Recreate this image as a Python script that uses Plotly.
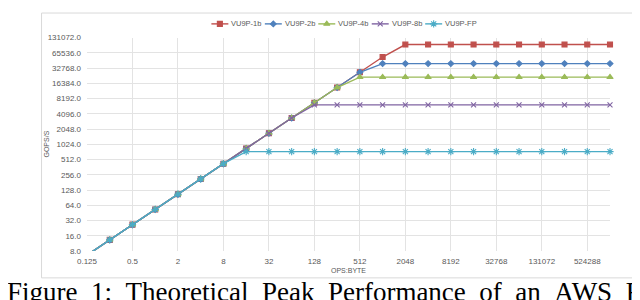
import plotly.graph_objects as go
import math

# ---- data ----
x_vals = [0.125, 0.25, 0.5, 1, 2, 4, 8, 16, 32, 64, 128, 256, 512, 1024,
          2048, 4096, 8192, 16384, 32768, 65536, 131072, 262144, 524288, 1048576]

vu9p_1b = [6.625, 13.25, 26.5, 53, 106, 212, 424, 848, 1696, 3392, 6784, 13568, 27136, 54272,
           95800, 95800, 95800, 95800, 95800, 95800, 95800, 95800, 95800, 95800]
vu9p_2b = [6.625, 13.25, 26.5, 53, 106, 212, 424, 848, 1696, 3392, 6784, 13568, 27136,
           40300, 40300, 40300, 40300, 40300, 40300, 40300, 40300, 40300, 40300, 40300]
vu9p_4b = [6.625, 13.25, 26.5, 53, 106, 212, 424, 848, 1696, 3392, 6784, 13568,
           21800, 21800, 21800, 21800, 21800, 21800, 21800, 21800, 21800, 21800, 21800, 21800]
vu9p_8b = [6.625, 13.25, 26.5, 53, 106, 212, 424, 848, 1696, 3392,
           6160, 6160, 6160, 6160, 6160, 6160, 6160, 6160, 6160, 6160, 6160, 6160, 6160, 6160]
vu9p_fp = [6.625, 13.25, 26.5, 53, 106, 212, 424,
           734, 734, 734, 734, 734, 734, 734, 734, 734, 734, 734, 734, 734, 734, 734, 734, 734]

series_names = ["VU9P-1b", "VU9P-2b", "VU9P-4b", "VU9P-8b", "VU9P-FP"]
series_data = [vu9p_1b, vu9p_2b, vu9p_4b, vu9p_8b, vu9p_fp]

x_tickvals = [0.125, 0.5, 2, 8, 32, 128, 512, 2048, 8192, 32768, 131072, 524288]
x_ticktext = ["0.125", "0.5", "2", "8", "32", "128", "512", "2048", "8192", "32768", "131072", "524288"]
y_tickvals = [8, 16, 32, 64, 128, 256, 512, 1024, 2048, 4096, 8192, 16384, 32768, 65536, 131072]
y_ticktext = ["8.0", "16.0", "32.0", "64.0", "128.0", "256.0", "512.0", "1024.0", "2048.0",
              "4096.0", "8192.0", "16384.0", "32768.0", "65536.0", "131072.0"]

caption = "Figure 1: Theoretical Peak Performance of an AWS F1"

# ---- styles ----
colors = ["#c0504d", "#4f81bd", "#9bbb59", "#8064a2", "#4bacc6"]
symbols = ["square", "diamond", "triangle-up", "x-thin-open", "asterisk-open"]
sizes = [5, 4.5, 5.5, 5, 6]
FONT = "Liberation Sans Narrow, Liberation Sans, Arial"
GRAY = "#595959"

W, H = 640, 300
L, R, T, B = 78.5, 38, 4, 57.3
PLOT_TOP = 26.0          # pixel y of the main plot's top edge
pw = W - L - R
ph = H - T - B
main_top = (H - B - PLOT_TOP) / ph

def px2paper_x(px):
    return (px - L) / pw

def py2paper_y(py):
    return (H - B - py) / ph

fig = go.Figure()
n = len(x_vals)
for name, ys, c, s, sz in zip(series_names, series_data, colors, symbols, sizes):
    fig.add_trace(go.Scatter(
        x=x_vals, y=ys, name=name, mode="lines+markers",
        line=dict(color=c, width=1.4),
        marker=dict(symbol=s, size=sz, color=c,
                    opacity=[0] + [1] * (n - 1),
                    line=dict(color=c, width=1.1)),
        cliponaxis=False, showlegend=False,
    ))

# ---- manual legend (pixel-placed in a strip above the plot) ----
leg_y = 12
leg_x0 = 203
leg_pitch = 53.5
shapes = [dict(type="rect", xref="paper", yref="paper",
               x0=px2paper_x(33), x1=px2paper_x(628),
               y0=py2paper_y(270), y1=py2paper_y(1),
               line=dict(color="#d9d9d9", width=1), fillcolor="rgba(0,0,0,0)",
               layer="below")]
annotations = []
for i, (name, c, s, sz) in enumerate(zip(series_names, colors, symbols, sizes)):
    sx = leg_x0 + i * leg_pitch
    shapes.append(dict(type="line", xref="paper", yref="paper",
                       x0=px2paper_x(sx), x1=px2paper_x(sx + 17),
                       y0=py2paper_y(leg_y), y1=py2paper_y(leg_y),
                       line=dict(color=c, width=1.4)))
    annotations.append(dict(text=name, xref="paper", yref="paper",
                            x=px2paper_x(sx + 18), y=py2paper_y(leg_y),
                            xanchor="left", yanchor="middle", showarrow=False,
                            font=dict(family=FONT, size=7.5, color=GRAY)))
    fig.add_trace(go.Scatter(
        x=[sx + 8.5], y=[leg_y], mode="markers", xaxis="x2", yaxis="y2",
        marker=dict(symbol=s, size=sz, color=c, line=dict(color=c, width=1.1)),
        cliponaxis=False, showlegend=False, hoverinfo="skip"))

grid = "#e3e3e3"
tickfont = dict(family=FONT, size=8, color=GRAY)

annotations += [
    dict(text="GOPS/S", textangle=-90, xref="paper", yref="paper",
         x=px2paper_x(38), y=py2paper_y(134), xanchor="center", yanchor="middle",
         showarrow=False, font=dict(family=FONT, size=7, color=GRAY)),
    dict(text="OPS:BYTE", xref="paper", yref="paper",
         x=px2paper_x(340), y=py2paper_y(263), xanchor="center", yanchor="middle",
         showarrow=False, font=dict(family=FONT, size=7, color=GRAY)),
    dict(text=caption.replace(" ", " \u00a0"), xref="paper", yref="paper",
         x=px2paper_x(-4), y=py2paper_y(284), xanchor="left", yanchor="middle",
         showarrow=False,
         font=dict(family="Liberation Serif, DejaVu Serif, serif", size=27, color="#000000")),
]

fig.update_layout(
    width=W, height=H,
    margin=dict(l=L, r=R, t=T, b=B, pad=0),
    paper_bgcolor="white", plot_bgcolor="white",
    showlegend=False,
    xaxis=dict(type="log", range=[math.log10(0.125), math.log10(1048576)],
               tickvals=x_tickvals, ticktext=x_ticktext, tickfont=tickfont,
               showgrid=True, gridcolor=grid, gridwidth=1,
               showline=False, zeroline=False, ticks="", ticklabelstandoff=4),
    yaxis=dict(type="log", range=[math.log10(8), math.log10(131072)], domain=[0, main_top],
               tickvals=y_tickvals, ticktext=y_ticktext, tickfont=tickfont,
               showgrid=True, gridcolor=grid, gridwidth=1,
               showline=False, zeroline=False, ticks="", ticklabelstandoff=5),
    xaxis2=dict(domain=[0, 1], range=[L, W - R], visible=False, fixedrange=True, anchor="y2"),
    yaxis2=dict(domain=[main_top, 1], range=[PLOT_TOP, T], visible=False, fixedrange=True,
                anchor="x2", showgrid=False),
    shapes=shapes,
    annotations=annotations,
)

fig.write_html("out.html")
